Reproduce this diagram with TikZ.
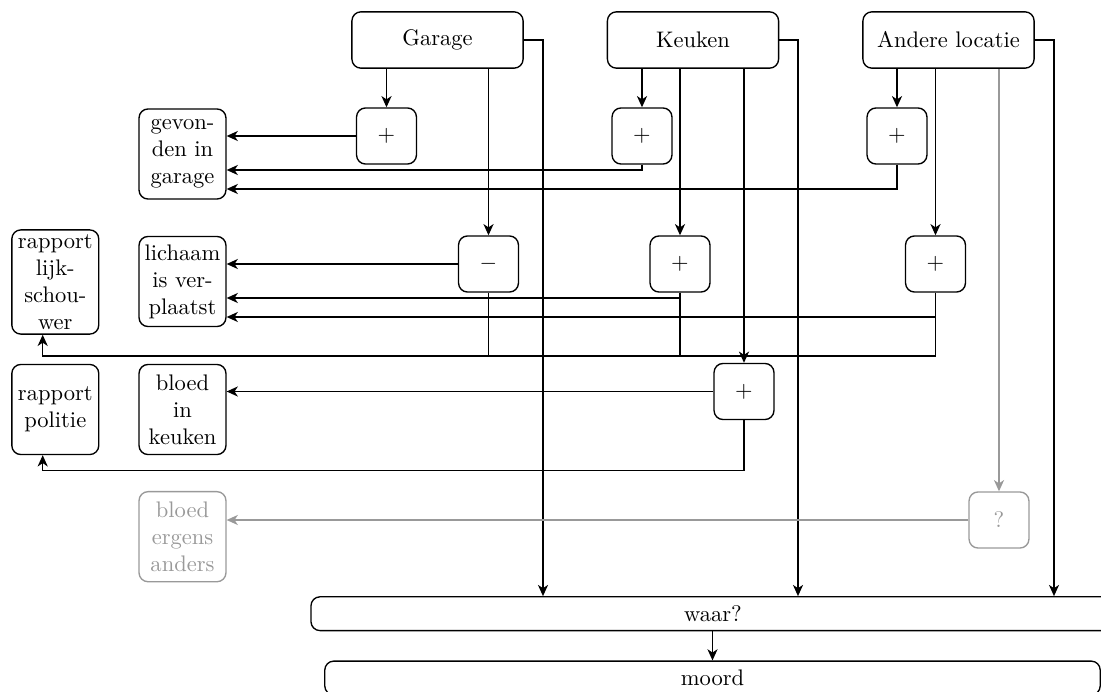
\documentclass[tikz,border=0pt]{standalone}
\usetikzlibrary{arrows.meta,calc}
\begin{document}
\begin{tikzpicture}[x=0.444pt,y=-0.444pt,
  box/.style={draw, rounded corners=4pt, line width=0.6pt, inner sep=2pt, align=center, font=\fontsize{10}{12}\selectfont},
  topbox/.style={box, minimum width=76pt, minimum height=25pt},
  opbox/.style={box, minimum width=26.6pt, minimum height=24.9pt},
  resbox/.style={box, text width=34.6pt, minimum height=40pt},
  widebox/.style={box, minimum height=15pt},
  ghost/.style={draw=black!40, text=black!40},
  conn/.style={line width=0.6pt},
  arr/.style={conn, -{Stealth[length=5pt,width=4.5pt,inset=1.5pt]}},
  garr/.style={arr, draw=black!40},
]
\useasboundingbox (0,0) rectangle (1101,692);

% top boxes
\node[topbox] (G) at (437.5,40) {Garage};
\node[topbox] (K) at (693,40) {Keuken};
\node[topbox] (A) at (948.5,40) {Andere locatie};

% operator boxes
\node[opbox] (g1) at (386.5,136) {$+$};
\node[opbox] (k1) at (642,136) {$+$};
\node[opbox] (a1) at (897,136) {$+$};
\node[opbox] (g2) at (488.5,264) {$-$};
\node[opbox] (k2) at (680,264) {$+$};
\node[opbox] (a2) at (935.5,264) {$+$};
\node[opbox] (k3) at (744,391.5) {$+$};
\node[opbox, ghost] (q) at (999,520) {?};

% result boxes
\node[resbox] (gev) at (182.5,154) {gevon-\\den in\\garage};
\node[resbox] (lich) at (182.5,281.5) {lichaam\\is ver-\\plaatst};
\node[resbox] (bik) at (182.5,409.5) {bloed\\in\\keuken};
\node[resbox, ghost] (bea) at (182.5,536.7) {bloed\\ergens\\anders};
\node[resbox] (rl) at (55.3,282) {rapport\\lijk-\\schou-\\wer};
\node[resbox] (rp) at (55.3,409.5) {rapport\\politie};

% bottom boxes
\node[widebox, minimum width=357pt] (waar) at (713,613.7) {waar?};
\node[widebox, minimum width=344.3pt] (moord) at (712.5,678) {moord};

% helper coordinates
\coordinate (gx) at (543,0);
\coordinate (kx) at (798,0);
\coordinate (ax) at (1054,0);
\coordinate (rx) at (42.7,0);
\coordinate (j1) at (0,356);
\coordinate (j2) at (0,470.7);

% from top boxes
\draw[arr] (g1 |- G.south) -- (g1.north);
\draw[arr] (g2 |- G.south) -- (g2.north);
\draw[arr] (G.east) -| (gx |- waar.north);
\draw[arr] (k1 |- K.south) -- (k1.north);
\draw[arr] (k2 |- K.south) -- (k2.north);
\draw[arr] (k3 |- K.south) -- (k3.north);
\draw[arr] (K.east) -| (kx |- waar.north);
\draw[arr] (a1 |- A.south) -- (a1.north);
\draw[arr] (a2 |- A.south) -- (a2.north);
\draw[garr] (q |- A.south) -- (q.north);
\draw[arr] (A.east) -| (ax |- waar.north);

% row 1 to gevonden
\draw[arr] (g1.west) -- (g1.west -| gev.east);
\draw[arr] (k1.south) |- ($(gev.east)+(0,16)$);
\draw[arr] (a1.south) |- ($(gev.east)+(0,35)$);

% row 2 to lichaam
\draw[arr] (g2.west) -- (g2.west -| lich.east);
\draw[arr] (k2.south) |- ($(lich.east)+(0,16.5)$);
\draw[arr] (a2.south) |- ($(lich.east)+(0,35.5)$);

% row 2 to rapport lijkschouwer
\draw[conn] (g2.south) -- (g2.south |- j1);
\draw[conn] (k2.south) -- (k2.south |- j1);
\draw[arr] (a2.south) -- (a2.south |- j1) -- (rx |- j1) -- (rx |- rl.south);

% row 3
\draw[arr] (k3.west) -- (k3.west -| bik.east);
\draw[arr] (k3.south) -- (k3.south |- j2) -- (rx |- j2) -- (rx |- rp.south);

% unknown
\draw[garr] (q.west) -- (q.west -| bea.east);

% waar to moord
\draw[arr] (waar.south -| moord.north) -- (moord.north);
\end{tikzpicture}
\end{document}
